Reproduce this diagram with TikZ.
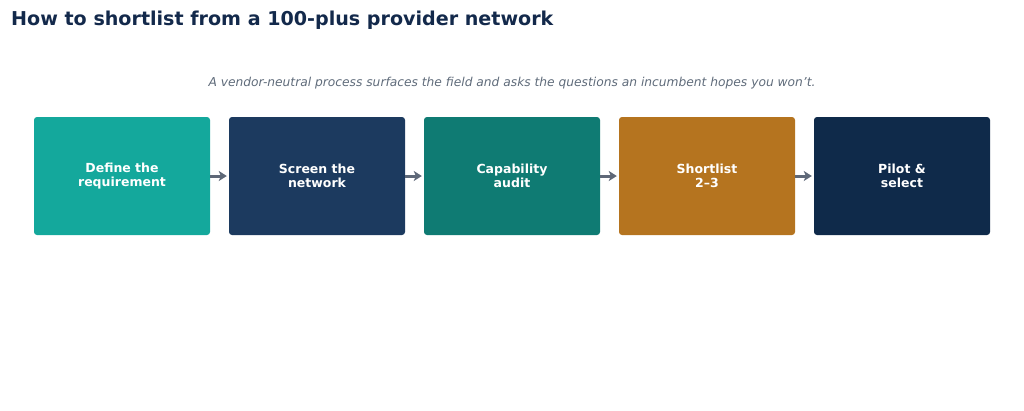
\documentclass[tikz,border=0pt]{standalone}
\usepackage{fontspec}
\setmainfont{DejaVu Sans}
\usetikzlibrary{arrows.meta}
\definecolor{titlec}{HTML}{13294B}
\definecolor{subc}{HTML}{5F6B7A}
\definecolor{arrc}{HTML}{5E6878}
\definecolor{cA}{HTML}{14A89C}
\definecolor{cB}{HTML}{1C3A5F}
\definecolor{cC}{HTML}{0F7B73}
\definecolor{cD}{HTML}{B5741F}
\definecolor{cE}{HTML}{0F2A4A}
\tikzset{
  stepbox/.style={rounded corners=3pt, minimum width=176pt, minimum height=118pt, inner sep=0pt,
    text=white, font=\bfseries\fontsize{12.5}{14}\selectfont, align=center},
  conn/.style={draw=arrc, line width=3pt, -{Stealth[length=8pt,width=10pt,inset=2pt]}}
}
\begin{document}
\begin{tikzpicture}[x=1pt,y=-1pt]
\useasboundingbox (0,0) rectangle (1024,410);
\node[anchor=base west, text=titlec, font=\bfseries\fontsize{19.1}{22}\selectfont, inner sep=0pt] (title) at (11,25) {How to shortlist from a 100-plus provider network};
\node[anchor=base, text=subc, font=\itshape\fontsize{12.25}{15}\selectfont, inner sep=0pt] (sub) at (512,86) {A vendor-neutral process surfaces the field and asks the questions an incumbent hopes you won’t.};
\node[stepbox, fill=cA] (s1) at (122,176) {Define the\\requirement};
\node[stepbox, fill=cB] (s2) at (317,176) {Screen the\\network};
\node[stepbox, fill=cC] (s3) at (512,176) {Capability\\audit};
\node[stepbox, fill=cD] (s4) at (707,176) {Shortlist\\2–3};
\node[stepbox, fill=cE] (s5) at (902,176) {Pilot \&\\select};
\foreach \a/\b in {s1/s2,s2/s3,s3/s4,s4/s5}
  \draw[conn] ([xshift=0pt]\a.east) -- ([xshift=-2pt]\b.west);
\end{tikzpicture}
\end{document}
